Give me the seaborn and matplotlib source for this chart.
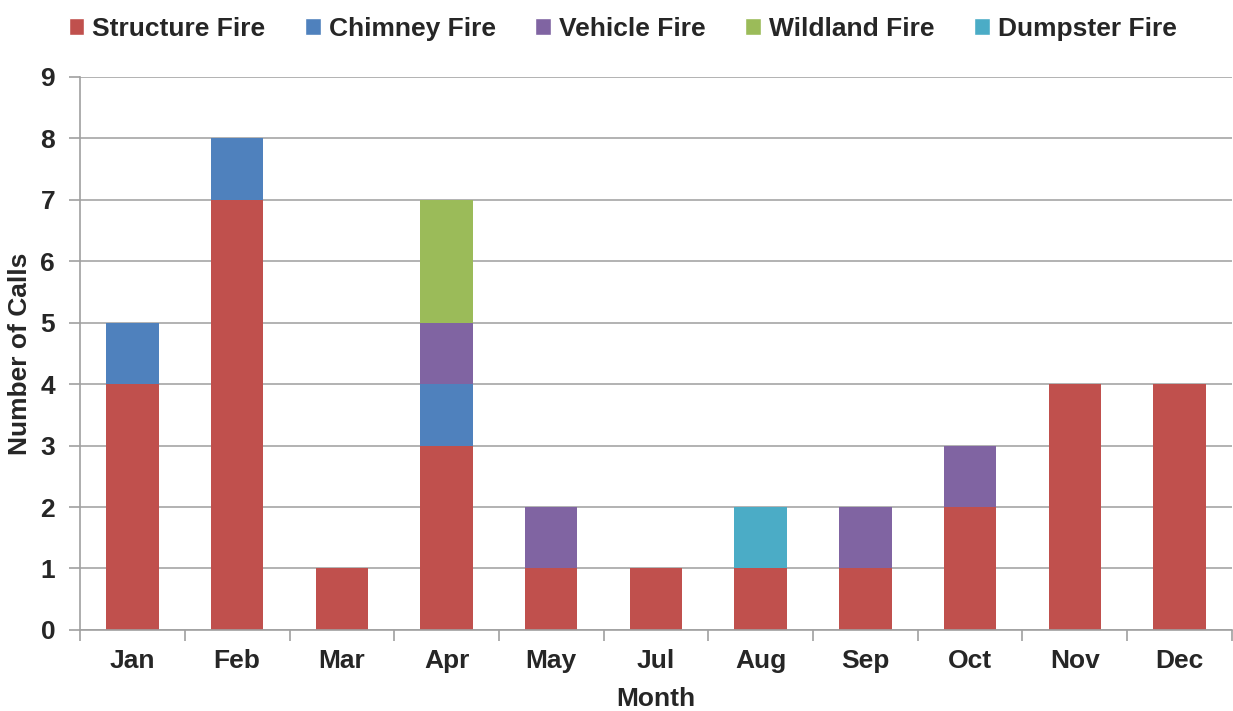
import matplotlib
matplotlib.use("Agg")
import matplotlib.pyplot as plt
import seaborn as sns
import numpy as np
from matplotlib.patches import Patch

# Chart data
months = ["Jan", "Feb", "Mar", "Apr", "May", "Jul", "Aug", "Sep", "Oct", "Nov", "Dec"]
structure = [4, 7, 1, 3, 1, 1, 1, 1, 2, 4, 4]
chimney = [1, 1, 0, 1, 0, 0, 0, 0, 0, 0, 0]
vehicle = [0, 0, 0, 1, 1, 0, 0, 1, 1, 0, 0]
wildland = [0, 0, 0, 2, 0, 0, 0, 0, 0, 0, 0]
dumpster = [0, 0, 0, 0, 0, 0, 1, 0, 0, 0, 0]

series = [
    ("Structure Fire", structure, "#C0504D"),
    ("Chimney Fire", chimney, "#4F81BD"),
    ("Vehicle Fire", vehicle, "#8064A2"),
    ("Wildland Fire", wildland, "#9BBB59"),
    ("Dumpster Fire", dumpster, "#4BACC6"),
]

sns.set_theme(style="white")
plt.rcParams["font.family"] = ["Liberation Sans", "DejaVu Sans"]
plt.rcParams["font.weight"] = "bold"
fs = 19

fig = plt.figure(figsize=(12.33, 7.11), dpi=100)
ax = fig.add_axes([0.065, 0.114, 0.934, 0.778])

bottom = np.zeros(len(months))
for name, vals, col in series:
    vals = np.array(vals, dtype=float)
    sns.barplot(x=months, y=vals, bottom=bottom, color=col, width=0.5,
                saturation=1, ax=ax, zorder=2, linewidth=0)
    bottom += vals

ax.set_ylim(0, 9)
ax.set_xlim(-0.5, len(months) - 0.5)
ax.set_yticks(range(10))
ax.yaxis.grid(True, color="#A6A6A6", linewidth=1.2, zorder=0)
ax.set_axisbelow(True)

for s in ["top", "right"]:
    ax.spines[s].set_visible(False)
for s in ["left", "bottom"]:
    ax.spines[s].set_color("#A0A0A0")
    ax.spines[s].set_linewidth(1.2)

ax.set_xticks(np.arange(-0.5, len(months), 1.0), minor=True)
ax.tick_params(axis="x", which="major", length=0, pad=14, labelsize=fs)
ax.tick_params(axis="x", which="minor", length=8, width=1.2, color="#A0A0A0", bottom=True)
ax.tick_params(axis="y", which="major", length=8, width=1.2, color="#A0A0A0", left=True,
               labelsize=fs, pad=10)
for lab in ax.get_xticklabels() + ax.get_yticklabels():
    lab.set_fontweight("bold")

ax.set_xlabel("Month", fontsize=fs, fontweight="bold", labelpad=10)
ax.set_ylabel("Number of Calls", fontsize=fs, fontweight="bold", labelpad=6)

handles = [Patch(facecolor=c, label=n) for n, _, c in series]
fig.legend(handles=handles, loc="upper center", bbox_to_anchor=(0.505, 1.01), ncol=5,
           frameon=False, handlelength=0.6, handleheight=0.6,
           handletextpad=0.3, columnspacing=1.5, prop={"weight": "bold", "size": fs})

fig.savefig("out.png", dpi=100)
